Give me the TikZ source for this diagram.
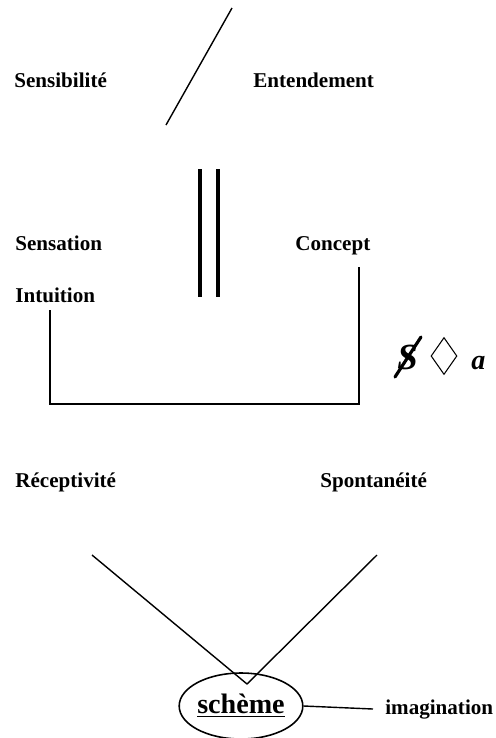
\documentclass[tikz,border=0pt]{standalone}
\usepackage{fontspec}
\setmainfont{Liberation Serif}
\usetikzlibrary{shapes.geometric}
\begin{document}
\begin{tikzpicture}[x = 0.02cm, y = -0.02cm]
% Node styles ---
\tikzstyle{lab} = [anchor = base west, inner sep = 0pt, font = \bfseries\fontsize{12}{14}\selectfont] % Labels
\tikzstyle{mat} = [anchor = base west, inner sep = 0pt, font = \bfseries\itshape\fontsize{16}{18}\selectfont] % Matheme letters
\tikzstyle{sch} = [ellipse, draw = black, line width = 0.9pt, minimum width = 2.4cm, minimum height = 1.32cm, inner sep = 0pt, font = \bfseries\fontsize{16}{18}\selectfont] % Scheme
\tikzstyle{dia} = [diamond, draw = black, line width = 0.6pt, minimum width = 0.52cm, minimum height = 0.74cm, inner sep = 0pt] % Lozenge
% Edge styles
\tikzstyle{lin} = [draw = black, line width = 0.8pt] % Plain lines
\tikzstyle{bar} = [draw = black, line width = 2.3pt] % Thick bars
\tikzstyle{cut} = [draw = black, line width = 1.8pt, line cap = round] % Bar of the subject
% Begin Figure ---
\useasboundingbox (0,0) rectangle (495,738);
% Nodes
\node at (14,87) [lab] (sensib) {Sensibilité};
\node at (253,87) [lab] (entend) {Entendement};
\node at (15,250) [lab] (sensat) {Sensation};
\node at (295,250) [lab] (concept) {Concept};
\node at (15,302) [lab] (intuit) {Intuition};
\node at (15,487) [lab] (recept) {Réceptivité};
\node at (320,487) [lab] (spont) {Spontanéité};
\node at (241,706) [sch] (scheme) {\underline{schè}\underline{me}};
\node at (385,714) [lab] (imag) {imagination};
\node at (397,369) [mat, font = \bfseries\itshape\fontsize{21}{23}\selectfont] (subj) {S};
\node at (444,356) [dia] (poin) {};
\node at (471,369) [mat] (obja) {a};
% Coordinates
\coordinate (sl1) at (232,8);
\coordinate (sl2) at (166,125);
\coordinate (b1t) at (200,169);
\coordinate (b1b) at (200,297);
\coordinate (b2t) at (218,169);
\coordinate (b2b) at (218,297);
\coordinate (lt) at (50,310);
\coordinate (lb) at (50,404);
\coordinate (rb) at (359,404);
\coordinate (rt) at (359,267);
\coordinate (vl) at (92,555);
\coordinate (vr) at (377,555);
\coordinate (vtip) at (247,684);
\coordinate (sc1) at (395,377);
\coordinate (sc2) at (421,337);
% Paths
\path (sl1) edge [lin] (sl2);
\path (b1t) edge [bar] (b1b);
\path (b2t) edge [bar] (b2b);
\draw [lin, line width = 1pt] (lt) -- (lb) -- (rb) -- (rt);
\path (vl) edge [lin] (vtip);
\path (vr) edge [lin] (vtip);
\path (scheme.east) edge [lin] ([xshift = -0.24cm]imag.west);
\path (sc1) edge [cut] (sc2);
\end{tikzpicture}
\end{document}
